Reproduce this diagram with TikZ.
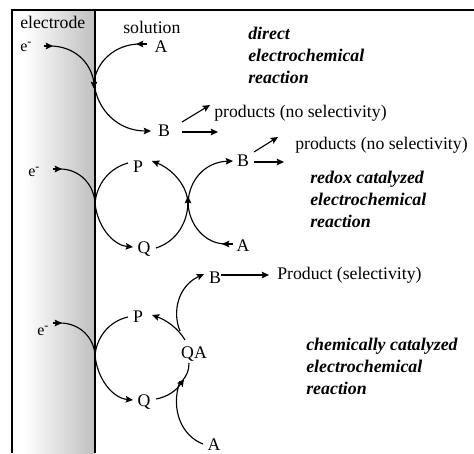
\documentclass[tikz,border=0pt]{standalone}
\usepackage{fontspec}
\setmainfont{Liberation Serif}
\usetikzlibrary{arrows.meta}
\newcommand{\elec}{e\raisebox{4pt}{\fontsize{9pt}{9pt}\selectfont -}}
\begin{document}
\begin{tikzpicture}[x=0.75pt,y=-0.75pt,
  lab/.style={inner sep=0pt,font=\fontsize{13.3pt}{15pt}\selectfont},
  elab/.style={inner sep=0pt,font=\fontsize{12pt}{13pt}\selectfont},
  title/.style={inner sep=0pt,anchor=west,align=left,font=\fontsize{13.4pt}{16.5pt}\selectfont\bfseries\itshape},
  arr/.style={line width=0.85pt,-{Stealth[length=5.5pt,width=5pt,inset=1pt]}},
  plain/.style={line width=0.85pt}]
\useasboundingbox (0,0) rectangle (474,453);
\fill[white] (0,0) rectangle (474,453);
\shade[left color=white,right color=black!25] (24,10) rectangle (95,453);
\draw[line width=1.2pt] (12,453) -- (12,10) -- (474,10);
\draw[line width=1pt] (95,10) -- (95,453);
% top
\node[lab,anchor=west] (el) at (20,22) {electrode};
\node[lab,anchor=west] (sol) at (123,27) {solution};
\node[elab,anchor=west] (e1) at (20,47) {\elec};
\node[lab] (A1) at (161,47) {A};
\node[lab] (B1) at (164,131) {B};
\node[lab,anchor=west] (pr1) at (214,113) {products (no selectivity)};
\coordinate (s1) at (94,83);
\draw[arr] ([shift={(24,-1)}]e1.west) -- ([shift={(33,-1)}]e1.west);
\draw[plain] ([shift={(30,-1)}]e1.west) .. controls (74,46) and (91,62) .. (s1);
\draw[arr] ([shift={(0,-3)}]s1) -- ([shift={(0,6)}]s1);
\draw[plain] (s1) .. controls (96,62) and (115,44) .. ([shift={(-21,-3)}]A1.center);
\draw[arr] ([shift={(-14,-3)}]A1.center) -- ([shift={(-25,-3)}]A1.center);
\draw[arr] (s1) .. controls (97,110) and (118,131) .. ([shift={(-13,0)}]B1.center);
\draw[arr] ([shift={(18,-9)}]B1.center) -- ([shift={(-4,-8)}]pr1.west);
\draw[arr] ([shift={(18,1)}]B1.center) -- ([shift={(54,1)}]B1.center);
% middle
\node[elab,anchor=west] (e2) at (28,172) {\elec};
\node[lab] (P2) at (138,167) {P};
\node[lab] (Q2) at (144,249) {Q};
\node[lab] (B2) at (243,161) {B};
\node[lab] (A2) at (243,246) {A};
\node[lab,anchor=west] (pr2) at (295,145) {products (no selectivity)};
\coordinate (s2) at (95,203);
\coordinate (s3) at (188,203);
\draw[arr] ([shift={(25,-3)}]e2.west) -- ([shift={(34,-3)}]e2.west);
\draw[plain] ([shift={(32,-3)}]e2.west) .. controls (80,169) and (94,185) .. (s2);
\draw[plain] (s2) .. controls (97,183) and (110,168) .. ([shift={(-10,-4)}]P2.center);
\draw[arr] (s2) .. controls (97,225) and (112,245) .. ([shift={(-11,-2)}]Q2.center);
\draw[arr] ([shift={(12,-1)}]Q2.center) .. controls (172,243) and (187,228) .. (s3) .. controls (187,185) and (172,169) .. ([shift={(14,-6)}]P2.center);
\draw[arr] ([shift={(0,3)}]s3) -- ([shift={(0,-7)}]s3);
\draw[plain] (s3) .. controls (189,225) and (205,244) .. ([shift={(-17,-2)}]A2.center);
\draw[arr] ([shift={(-10,-2)}]A2.center) -- ([shift={(-21,-2)}]A2.center);
\draw[arr] (s3) .. controls (189,180) and (205,162) .. ([shift={(-10,0)}]B2.center);
\draw[arr] ([shift={(11,-9)}]B2.center) -- ([shift={(-17,-8)}]pr2.west);
\draw[arr] ([shift={(11,1)}]B2.center) -- ([shift={(41,1)}]B2.center);
% bottom
\node[elab,anchor=west] (e3) at (37,331) {\elec};
\node[lab] (P3) at (138,317) {P};
\node[lab] (Q3) at (144,402) {Q};
\node[lab] (QA) at (194,354) {QA};
\node[lab] (B3) at (215,278) {B};
\node[lab] (A3) at (214,445) {A};
\node[lab,anchor=west] (Pr3) at (277,275) {Product (selectivity)};
\coordinate (s4) at (95,355);
\coordinate (qj) at (183,380);
\draw[arr] ([shift={(16,-8)}]e3.west) -- ([shift={(25,-8)}]e3.west);
\draw[plain] ([shift={(23,-8)}]e3.west) .. controls (80,323) and (94,338) .. (s4);
\draw[plain] (s4) .. controls (97,336) and (110,321) .. ([shift={(-10,0)}]P3.center);
\draw[arr] (s4) .. controls (97,378) and (112,398) .. ([shift={(-11,-2)}]Q3.center);
\draw[arr] ([shift={(-9,-14)}]QA.center) .. controls (178,328) and (166,320) .. ([shift={(14,-2)}]P3.center);
\draw[arr] ([shift={(-14,-23)}]QA.center) .. controls (172,312) and (178,286) .. ([shift={(-11,-4)}]B3.center);
\draw[arr] ([shift={(12,-3)}]Q3.center) .. controls (167,397) and (176,391) .. ([shift={(1,-1)}]qj);
\draw[plain] (qj) .. controls (187,375) and (189,370) .. ([shift={(-5,9)}]QA.center);
\draw[plain] ([shift={(-11,-1)}]A3.center) .. controls (182,436) and (170,410) .. ([shift={(-3,1)}]qj);
\draw[arr] (B3.east |- Pr3.west) -- ([xshift=-6pt]Pr3.west);
% titles
\node[title] (t1) at (248,55) {direct\\electrochemical\\reaction};
\node[title] (t2) at (310,199) {redox catalyzed\\electrochemical\\reaction};
\node[title] (t3) at (306,366) {chemically catalyzed\\electrochemical\\reaction};
\end{tikzpicture}
\end{document}
